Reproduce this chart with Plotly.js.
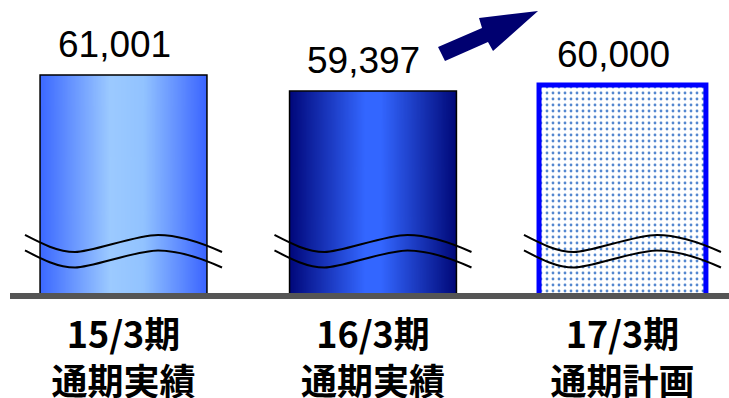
<!DOCTYPE html>
<html>
<head>
<meta charset="utf-8">
<script src="https://cdn.plot.ly/plotly-3.0.1.min.js"></script>
<style>
  html, body { margin: 0; padding: 0; background: #ffffff; }
  #chart { width: 729px; height: 398px; }
</style>
</head>
<body>
<div id="chart"></div>
<script>
// Net sales by fiscal year (results and plan)
const periods = ['15/3期', '16/3期', '17/3期'];
const kinds = ['通期実績', '通期実績', '通期計画'];
const sales = [61001, 59397, 60000];
const isPlan = [false, false, true];

// ---- layout constants ----
const W = 729, H = 398;
const M = { l: 10, r: 0, t: 0, b: 105 };
const plotW = W - M.l - M.r;
const plotH = H - M.t - M.b;
const xRange = [-0.455, 2.427];
const yRange = [39325, 68450];          // broken value axis: the bars start above zero
const barW = 0.669;
const pxPerX = plotW / (xRange[1] - xRange[0]);

const xs = periods.map((_, i) => i);
const tickText = periods.map((p, i) => p + '<br>' + kinds[i]);
const valueText = sales.map(v => v.toLocaleString('en-US'));

// horizontal gradient fills for the result bars
function gradientURL(stops) {
  const c = document.createElement('canvas');
  c.width = 256; c.height = 4;
  const ctx = c.getContext('2d');
  const g = ctx.createLinearGradient(0, 0, c.width, 0);
  stops.forEach(s => g.addColorStop(s[0], s[1]));
  ctx.fillStyle = g;
  ctx.fillRect(0, 0, c.width, c.height);
  return c.toDataURL('image/png');
}
const fills = [
  [[0, '#3b68ff'], [0.42, '#9ccaff'], [0.62, '#92c3ff'], [1, '#3a64ff']],
  [[0, '#00077a'], [0.45, '#3366ff'], [0.55, '#3366ff'], [1, '#000878']],
  null
];

const images = [];
fills.forEach((stops, i) => {
  if (!stops) return;
  images.push({
    source: gradientURL(stops),
    xref: 'x', yref: 'y',
    x: xs[i] - barW / 2, y: sales[i],
    sizex: barW, sizey: sales[i] - yRange[0],
    xanchor: 'left', yanchor: 'top',
    sizing: 'stretch', layer: 'below'
  });
});

const resIdx = xs.filter(i => !isPlan[i]);
const planIdx = xs.filter(i => isPlan[i]);

const results = {
  type: 'bar',
  x: resIdx.map(i => xs[i]),
  y: resIdx.map(i => sales[i]),
  width: barW,
  hoverinfo: 'skip',
  marker: {
    color: 'rgba(0,0,0,0)',
    line: { color: '#000000', width: 1.5 }
  }
};

const plan = {
  type: 'bar',
  x: planIdx.map(i => xs[i]),
  y: planIdx.map(i => sales[i]),
  width: barW,
  hoverinfo: 'skip',
  marker: {
    color: '#ffffff',
    line: { color: '#0000ff', width: 5 },
    pattern: {
      shape: '.',
      fgcolor: '#5487cf',
      bgcolor: '#ffffff',
      size: 6,
      solidity: 0.17,
      fillmode: 'replace'
    }
  }
};

// pixel helpers for decorative shapes
const py = v => (plotH - v) / plotH;          // pixel row -> paper y
const px = v => (v - M.l) / plotW;            // pixel column -> paper x

// wavy "axis break" marks across every bar
function wave(cx, dy) {
  const X = d => (cx + d / pxPerX).toFixed(4);
  const Y = v => py(v + dy).toFixed(4);
  return 'M' + X(-98.5) + ',' + Y(235) +
    ' C' + X(-83) + ',' + Y(243) + ' ' + X(-66) + ',' + Y(252) + ' ' + X(-48.5) + ',' + Y(252) +
    ' S' + X(12) + ',' + Y(235) + ' ' + X(34.5) + ',' + Y(235) +
    ' S' + X(83) + ',' + Y(245) + ' ' + X(98.5) + ',' + Y(252);
}
const shapes = [];
xs.forEach(cx => {
  [0, 15.5].forEach(dy => {
    shapes.push({
      type: 'path', xref: 'x', yref: 'paper', layer: 'above',
      path: wave(cx, dy),
      line: { color: '#000000', width: 2 }
    });
  });
});

// upward block arrow between the last two bars
const arrowPts = [[438, 47], [482, 28], [479, 18], [538, 11], [493, 51], [488, 42], [445, 61]];
shapes.push({
  type: 'path', xref: 'paper', yref: 'paper', layer: 'above',
  path: 'M' + arrowPts.map(p => px(p[0]).toFixed(4) + ',' + py(p[1]).toFixed(4)).join(' L') + ' Z',
  fillcolor: '#000070',
  line: { width: 0 }
});

const annotations = sales.map((v, i) => ({
  x: xs[i], y: v, xref: 'x', yref: 'y',
  text: valueText[i],
  showarrow: false,
  xanchor: 'center', yanchor: 'bottom',
  xshift: -9, yshift: 8,
  font: { family: 'Liberation Sans, Arial, sans-serif', size: 37, color: '#000000' }
}));

const layout = {
  width: W, height: H,
  margin: M,
  paper_bgcolor: '#ffffff',
  plot_bgcolor: 'rgba(0,0,0,0)',
  showlegend: false,
  hovermode: false,
  barmode: 'overlay',
  xaxis: {
    range: xRange,
    tickvals: xs,
    ticktext: tickText,
    ticks: '',
    ticklabelstandoff: 6,
    showgrid: false,
    zeroline: false,
    showline: true,
    linecolor: '#555555',
    linewidth: 6,
    tickfont: { family: 'Noto Sans CJK JP, sans-serif', size: 36, color: '#000000', weight: 700 },
    fixedrange: true
  },
  yaxis: {
    range: yRange,
    visible: false,
    showgrid: false,
    zeroline: false,
    fixedrange: true
  },
  images: images,
  shapes: shapes,
  annotations: annotations
};

Plotly.newPlot('chart', [results, plan], layout, { staticPlot: true, displayModeBar: false });
</script>
</body>
</html>
